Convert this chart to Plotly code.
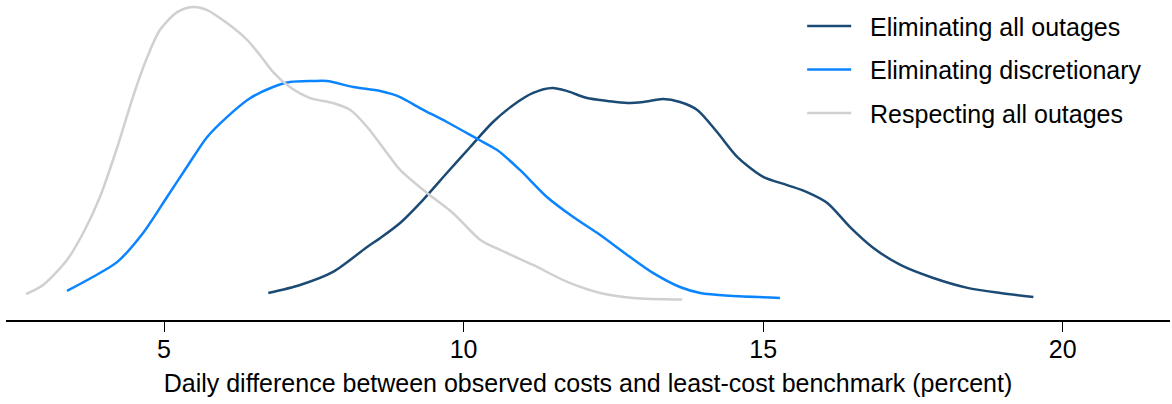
import plotly.graph_objects as go

# Kernel density estimates of daily cost gaps (percent) under three outage scenarios
all_x = [6.74, 7.27, 7.82, 8.39, 8.61, 8.94, 9.32, 9.72, 10.11, 10.49, 10.83, 11.16,
         11.48, 11.73, 12.06, 12.40, 12.73, 13.00, 13.33, 13.61, 13.90, 14.23, 14.57,
         15.00, 15.40, 15.73, 16.07, 16.45, 16.84, 17.29, 17.84, 18.41, 18.96, 19.51]
all_y = [0.0041, 0.0088, 0.0165, 0.0312, 0.0365, 0.0453, 0.0588, 0.0747, 0.0900, 0.1047,
         0.1147, 0.1218, 0.1247, 0.1229, 0.1188, 0.1171, 0.1159, 0.1165, 0.1182, 0.1165,
         0.1118, 0.0988, 0.0841, 0.0724, 0.0676, 0.0635, 0.0571, 0.0429, 0.0306, 0.0206,
         0.0129, 0.0071, 0.0041, 0.0018]

disc_x = [3.38, 3.81, 4.22, 4.65, 5.05, 5.38, 5.72, 6.05, 6.44, 6.82, 7.10, 7.49, 7.72,
          8.16, 8.61, 8.94, 9.27, 9.72, 10.23, 10.56, 10.94, 11.39, 11.83, 12.28, 12.73,
          13.16, 13.61, 13.95, 14.45, 15.28]
disc_y = [0.0053, 0.0135, 0.0224, 0.0394, 0.0606, 0.0782, 0.0959, 0.1076, 0.1188, 0.1253,
          0.1282, 0.1288, 0.1288, 0.1253, 0.1229, 0.1194, 0.1129, 0.1047, 0.0947, 0.0882,
          0.0765, 0.0606, 0.0488, 0.0382, 0.0265, 0.0159, 0.0076, 0.0041, 0.0024, 0.0012]

resp_x = [2.70, 2.98, 3.38, 3.65, 3.93, 4.22, 4.48, 4.72, 4.93, 5.22, 5.48, 5.72, 6.05,
          6.39, 6.60, 6.82, 7.10, 7.44, 7.82, 8.11, 8.39, 8.72, 8.94, 9.39, 9.82, 10.28,
          10.61, 11.16, 11.73, 12.28, 12.83, 13.65]
resp_y = [0.0035, 0.0088, 0.0235, 0.0394, 0.0606, 0.0900, 0.1194, 0.1429, 0.1588, 0.1694,
          0.1724, 0.1706, 0.1629, 0.1529, 0.1441, 0.1341, 0.1253, 0.1188, 0.1159, 0.1118,
          0.1018, 0.0865, 0.0765, 0.0629, 0.0512, 0.0353, 0.0294, 0.0206, 0.0106, 0.0041,
          0.0012, 0.0003]

series_names = ["Eliminating all outages", "Eliminating discretionary", "Respecting all outages"]
series_colors = ["#1b4a74", "#0a84ff", "#d0d0d0"]
tick_values = [5, 10, 15, 20]
x_title = "Daily difference between observed costs and least-cost benchmark (percent)"

FONT = "Liberation Sans, Arial, sans-serif"
LEGEND_PAD = "\u00a0\u00a0"  # extra gap between legend line and label

fig = go.Figure()
for i, (xs, ys) in enumerate([(all_x, all_y), (disc_x, disc_y), (resp_x, resp_y)]):
    fig.add_trace(go.Scatter(
        x=xs, y=ys, mode="lines", name=LEGEND_PAD + series_names[i],
        line=dict(color=series_colors[i], width=2.5, shape="spline", smoothing=0.8),
        legendgroup=f"g{i}",
    ))

fig.update_layout(
    width=1172, height=404,
    margin=dict(l=6, r=2, t=0, b=84),
    paper_bgcolor="white", plot_bgcolor="white",
    font=dict(family=FONT, size=25, color="black"),
    showlegend=True,
    legend=dict(
        x=0.684, y=0.99, xanchor="left", yanchor="top",
        font=dict(size=25, family=FONT, color="black"),
        bgcolor="rgba(0,0,0,0)", borderwidth=0,
        traceorder="grouped", tracegroupgap=8, itemwidth=44,
    ),
    xaxis=dict(
        range=[2.362, 21.79], tickvals=tick_values, ticktext=[str(v) for v in tick_values],
        showline=True, linecolor="black", linewidth=2, mirror=False,
        ticks="outside", ticklen=10, tickwidth=1, tickcolor="black",
        showgrid=False, zeroline=False,
        tickfont=dict(size=25, family=FONT), ticklabelstandoff=-4,
        title=dict(text=x_title, font=dict(size=25, family=FONT), standoff=12),
    ),
    yaxis=dict(range=[-0.0118, 0.1765], visible=False, showgrid=False, zeroline=False),
)

fig.write_html("out.html")
